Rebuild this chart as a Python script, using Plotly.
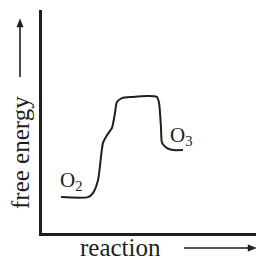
import plotly.graph_objects as go

# reaction coordinate (arbitrary units 0-100) and free energy (arbitrary units 0-100)
reaction = [8.9, 21.5, 23.8, 26.2, 28.5, 30.4, 32.7, 34.1, 35.0, 37.4, 42.5, 49.1, 53.7, 54.7, 55.6, 56.1, 58.4, 61.2, 65.9]
energy = [16.1, 16.1, 17.9, 23.8, 40.4, 43.9, 47.1, 53.8, 58.7, 60.5, 61.0, 61.4, 61.0, 58.3, 47.5, 40.4, 38.1, 37.2, 37.2]

labels = ["O<sub>2</sub>", "O<sub>3</sub>"]
label_x = [7.5, 59.0]
label_y = [23.3, 43.5]

FONT = "Liberation Serif, Times New Roman, serif"
INK = "#1e1e1e"

W, H = 256, 267
ML, MR, MT, MB = 42, 0, 10, 34
PW, PH = W - ML - MR, H - MT - MB


def px(x):
    return (x - ML) / PW


def py(y):
    return (H - MB - y) / PH


fig = go.Figure()
fig.add_trace(go.Scatter(x=reaction, y=energy, mode="lines",
                         line=dict(color=INK, width=2, shape="spline", smoothing=0.6),
                         hoverinfo="skip", showlegend=False))

for t, x, y in zip(labels, label_x, label_y):
    fig.add_annotation(x=x, y=y, text=t, showarrow=False, xanchor="left", yanchor="middle",
                       font=dict(family=FONT, size=21, color=INK))

# axis titles
fig.add_annotation(xref="paper", yref="paper", x=px(120), y=py(247), text="reaction",
                   xanchor="center", yanchor="middle",
                   showarrow=False, font=dict(family=FONT, size=25, color=INK))
fig.add_annotation(xref="paper", yref="paper", x=px(20), y=py(153), text="free energy",
                   xanchor="center", yanchor="middle",
                   textangle=-90, showarrow=False, font=dict(family=FONT, size=25, color=INK))

# arrows beside the titles
fig.add_shape(type="line", xref="paper", yref="paper", x0=px(20), x1=px(20), y0=py(77), y1=py(26),
              line=dict(color=INK, width=1.6))
fig.add_shape(type="path", xref="paper", yref="paper",
              path=f"M {px(20)} {py(19)} L {px(16.8)} {py(27)} L {px(23.2)} {py(27)} Z",
              fillcolor=INK, line=dict(color=INK, width=0.5))
fig.add_shape(type="line", xref="paper", yref="paper", x0=px(184), x1=px(249), y0=py(248), y1=py(248),
              line=dict(color=INK, width=1.6))
fig.add_shape(type="path", xref="paper", yref="paper",
              path=f"M {px(256)} {py(248)} L {px(248)} {py(244.8)} L {px(248)} {py(251.2)} Z",
              fillcolor=INK, line=dict(color=INK, width=0.5))

fig.update_xaxes(range=[0, 100], showline=True, linecolor=INK, linewidth=2.5, showgrid=False,
                 zeroline=False, showticklabels=False, ticks="", fixedrange=True)
fig.update_yaxes(range=[0, 100], showline=True, linecolor=INK, linewidth=2.5, showgrid=False,
                 zeroline=False, showticklabels=False, ticks="", fixedrange=True)

fig.update_layout(width=W, height=H, margin=dict(l=ML, r=MR, t=MT, b=MB),
                  plot_bgcolor="white", paper_bgcolor="white", showlegend=False)

fig.write_html("out.html", config={"displayModeBar": False},
               post_script="document.body.style.margin='0';document.body.style.overflow='hidden';")
